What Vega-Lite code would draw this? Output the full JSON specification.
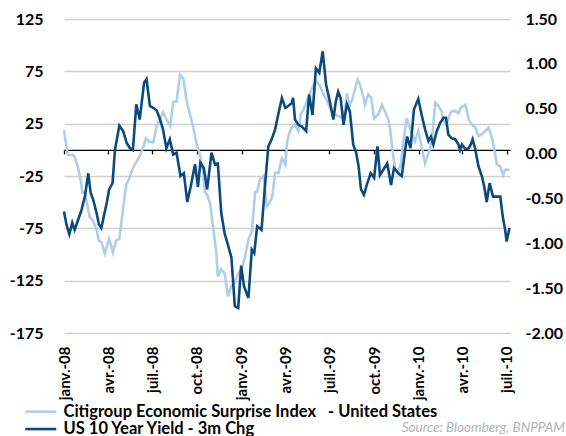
{
 "$schema": "https://vega.github.io/schema/vega-lite/v6.json",
 "width": 446,
 "height": 314,
 "autosize": {"type": "none"},
 "padding": {"left": 64, "top": 19, "right": 56, "bottom": 103},
 "background": "white",
 "config": {"view": {"stroke": null}, "font": "Lato"},
 "title": {"text": "Source: Bloomberg, BNPPAM", "orient": "bottom", "anchor": "end", "frame": "group", "font": "Lato", "fontSize": 13.5, "fontStyle": "italic", "fontWeight": "normal", "color": "#b3b3b3", "dx": 55, "offset": -18},
 "datasets": {
  "citi": [
   {"date": "2008-01-01", "value": 19}, {"date": "2008-01-06", "value": 3}, {"date": "2008-01-09", "value": -5}, {"date": "2008-01-20", "value": -5}, {"date": "2008-01-23", "value": -7}, {"date": "2008-01-30", "value": -17}, {"date": "2008-02-04", "value": -28}, {"date": "2008-02-08", "value": -41}, {"date": "2008-02-13", "value": -41}, {"date": "2008-02-16", "value": -48}, {"date": "2008-02-23", "value": -64}, {"date": "2008-03-01", "value": -68}, {"date": "2008-03-08", "value": -76}, {"date": "2008-03-13", "value": -87}, {"date": "2008-03-18", "value": -88}, {"date": "2008-03-25", "value": -99}, {"date": "2008-04-03", "value": -85}, {"date": "2008-04-11", "value": -98}, {"date": "2008-04-17", "value": -87}, {"date": "2008-04-24", "value": -85}, {"date": "2008-04-29", "value": -67}, {"date": "2008-05-05", "value": -44}, {"date": "2008-05-09", "value": -32}, {"date": "2008-05-14", "value": -28}, {"date": "2008-05-19", "value": -21}, {"date": "2008-05-26", "value": -14}, {"date": "2008-06-05", "value": -6}, {"date": "2008-06-12", "value": 2}, {"date": "2008-06-18", "value": 11}, {"date": "2008-06-24", "value": 8}, {"date": "2008-07-03", "value": 7}, {"date": "2008-07-10", "value": 23}, {"date": "2008-07-17", "value": 29}, {"date": "2008-07-23", "value": 36}, {"date": "2008-07-30", "value": 29}, {"date": "2008-08-07", "value": 23}, {"date": "2008-08-13", "value": 46}, {"date": "2008-08-20", "value": 46}, {"date": "2008-08-27", "value": 72}, {"date": "2008-09-03", "value": 68}, {"date": "2008-09-10", "value": 46}, {"date": "2008-09-16", "value": 35}, {"date": "2008-09-23", "value": 22}, {"date": "2008-09-30", "value": 6}, {"date": "2008-10-07", "value": -5}, {"date": "2008-10-14", "value": -22}, {"date": "2008-10-17", "value": -40}, {"date": "2008-10-22", "value": -43}, {"date": "2008-10-28", "value": -51}, {"date": "2008-11-03", "value": -73}, {"date": "2008-11-10", "value": -99}, {"date": "2008-11-13", "value": -121}, {"date": "2008-11-20", "value": -114}, {"date": "2008-11-27", "value": -118}, {"date": "2008-12-04", "value": -140}, {"date": "2008-12-11", "value": -130}, {"date": "2008-12-18", "value": -127}, {"date": "2008-12-25", "value": -118}, {"date": "2009-01-01", "value": -114}, {"date": "2009-01-08", "value": -102}, {"date": "2009-01-15", "value": -86}, {"date": "2009-01-22", "value": -78}, {"date": "2009-01-29", "value": -40}, {"date": "2009-02-02", "value": -40}, {"date": "2009-02-08", "value": -28}, {"date": "2009-02-15", "value": -25}, {"date": "2009-02-22", "value": -54}, {"date": "2009-02-27", "value": -51}, {"date": "2009-03-05", "value": -45}, {"date": "2009-03-11", "value": -22}, {"date": "2009-03-18", "value": -22}, {"date": "2009-03-25", "value": -8}, {"date": "2009-04-01", "value": -14}, {"date": "2009-04-05", "value": 8}, {"date": "2009-04-09", "value": 16}, {"date": "2009-04-14", "value": 21}, {"date": "2009-04-21", "value": 24}, {"date": "2009-04-28", "value": 18}, {"date": "2009-05-03", "value": 34}, {"date": "2009-05-08", "value": 38}, {"date": "2009-05-15", "value": 46}, {"date": "2009-05-22", "value": 54}, {"date": "2009-05-29", "value": 62}, {"date": "2009-06-05", "value": 65}, {"date": "2009-06-11", "value": 61}, {"date": "2009-06-18", "value": 54}, {"date": "2009-06-25", "value": 48}, {"date": "2009-07-02", "value": 40}, {"date": "2009-07-09", "value": 35}, {"date": "2009-07-19", "value": 32}, {"date": "2009-07-26", "value": 31}, {"date": "2009-08-02", "value": 38}, {"date": "2009-08-06", "value": 54}, {"date": "2009-08-11", "value": 42}, {"date": "2009-08-17", "value": 48}, {"date": "2009-08-23", "value": 59}, {"date": "2009-08-28", "value": 67}, {"date": "2009-09-02", "value": 62}, {"date": "2009-09-09", "value": 50}, {"date": "2009-09-12", "value": 43}, {"date": "2009-09-19", "value": 53}, {"date": "2009-09-25", "value": 50}, {"date": "2009-10-01", "value": 30}, {"date": "2009-10-10", "value": 34}, {"date": "2009-10-17", "value": 43}, {"date": "2009-10-23", "value": 37}, {"date": "2009-10-30", "value": 29}, {"date": "2009-11-03", "value": 20}, {"date": "2009-11-06", "value": 7}, {"date": "2009-11-13", "value": -18}, {"date": "2009-11-19", "value": -22}, {"date": "2009-11-25", "value": -14}, {"date": "2009-12-01", "value": 10}, {"date": "2009-12-07", "value": 30}, {"date": "2009-12-14", "value": 21}, {"date": "2009-12-24", "value": 8}, {"date": "2009-12-31", "value": 18}, {"date": "2010-01-07", "value": 3}, {"date": "2010-01-14", "value": -13}, {"date": "2010-01-21", "value": -3}, {"date": "2010-01-28", "value": 8}, {"date": "2010-02-04", "value": 45}, {"date": "2010-02-10", "value": 42}, {"date": "2010-02-17", "value": 37}, {"date": "2010-02-20", "value": 29}, {"date": "2010-02-27", "value": 24}, {"date": "2010-03-06", "value": 34}, {"date": "2010-03-10", "value": 37}, {"date": "2010-03-17", "value": 37}, {"date": "2010-03-24", "value": 35}, {"date": "2010-03-28", "value": 40}, {"date": "2010-04-07", "value": 43}, {"date": "2010-04-14", "value": 29}, {"date": "2010-04-21", "value": 24}, {"date": "2010-04-28", "value": 21}, {"date": "2010-05-04", "value": 13}, {"date": "2010-05-11", "value": 15}, {"date": "2010-05-18", "value": 18}, {"date": "2010-05-25", "value": 21}, {"date": "2010-06-01", "value": 11}, {"date": "2010-06-07", "value": -3}, {"date": "2010-06-11", "value": -14}, {"date": "2010-06-18", "value": -16}, {"date": "2010-06-24", "value": -24}, {"date": "2010-06-28", "value": -19}, {"date": "2010-07-07", "value": -19}
  ],
  "yld": [
   {"date": "2008-01-01", "value": -0.645}, {"date": "2008-01-06", "value": -0.79}, {"date": "2008-01-12", "value": -0.9}, {"date": "2008-01-18", "value": -0.77}, {"date": "2008-01-23", "value": -0.85}, {"date": "2008-01-30", "value": -0.74}, {"date": "2008-02-06", "value": -0.63}, {"date": "2008-02-13", "value": -0.48}, {"date": "2008-02-20", "value": -0.22}, {"date": "2008-02-25", "value": -0.44}, {"date": "2008-03-01", "value": -0.51}, {"date": "2008-03-08", "value": -0.66}, {"date": "2008-03-13", "value": -0.79}, {"date": "2008-03-18", "value": -0.83}, {"date": "2008-03-23", "value": -0.7}, {"date": "2008-03-29", "value": -0.55}, {"date": "2008-04-03", "value": -0.4}, {"date": "2008-04-10", "value": -0.33}, {"date": "2008-04-15", "value": 0.04}, {"date": "2008-04-24", "value": 0.31}, {"date": "2008-05-02", "value": 0.25}, {"date": "2008-05-09", "value": 0.12}, {"date": "2008-05-16", "value": 0.06}, {"date": "2008-05-22", "value": 0.04}, {"date": "2008-05-29", "value": 0.55}, {"date": "2008-06-05", "value": 0.38}, {"date": "2008-06-14", "value": 0.79}, {"date": "2008-06-19", "value": 0.83}, {"date": "2008-06-26", "value": 0.53}, {"date": "2008-07-03", "value": 0.51}, {"date": "2008-07-10", "value": 0.48}, {"date": "2008-07-17", "value": 0.38}, {"date": "2008-07-23", "value": 0.27}, {"date": "2008-07-30", "value": 0.06}, {"date": "2008-08-06", "value": 0.16}, {"date": "2008-08-13", "value": -0.01}, {"date": "2008-08-20", "value": 0.01}, {"date": "2008-08-28", "value": -0.25}, {"date": "2008-09-04", "value": -0.22}, {"date": "2008-09-11", "value": -0.54}, {"date": "2008-09-18", "value": -0.37}, {"date": "2008-09-27", "value": -0.12}, {"date": "2008-10-03", "value": -0.37}, {"date": "2008-10-08", "value": -0.1}, {"date": "2008-10-15", "value": -0.16}, {"date": "2008-10-22", "value": -0.4}, {"date": "2008-10-31", "value": 0.01}, {"date": "2008-11-07", "value": -0.12}, {"date": "2008-11-13", "value": -0.11}, {"date": "2008-11-20", "value": -0.66}, {"date": "2008-11-27", "value": -0.89}, {"date": "2008-12-04", "value": -1.02}, {"date": "2008-12-11", "value": -1.16}, {"date": "2008-12-18", "value": -1.7}, {"date": "2008-12-25", "value": -1.72}, {"date": "2008-12-31", "value": -1.25}, {"date": "2009-01-06", "value": -1.48}, {"date": "2009-01-15", "value": -1.61}, {"date": "2009-01-22", "value": -1.07}, {"date": "2009-01-27", "value": -1.11}, {"date": "2009-02-02", "value": -0.81}, {"date": "2009-02-11", "value": -0.85}, {"date": "2009-02-18", "value": -0.37}, {"date": "2009-02-25", "value": 0.08}, {"date": "2009-03-04", "value": 0.16}, {"date": "2009-03-11", "value": 0.27}, {"date": "2009-03-18", "value": 0.45}, {"date": "2009-03-25", "value": 0.62}, {"date": "2009-04-01", "value": 0.51}, {"date": "2009-04-07", "value": 0.53}, {"date": "2009-04-14", "value": 0.56}, {"date": "2009-04-17", "value": 0.62}, {"date": "2009-04-21", "value": 0.38}, {"date": "2009-04-28", "value": 0.32}, {"date": "2009-05-05", "value": 0.3}, {"date": "2009-05-14", "value": 0.25}, {"date": "2009-05-20", "value": 0.66}, {"date": "2009-05-27", "value": 0.43}, {"date": "2009-06-03", "value": 0.95}, {"date": "2009-06-10", "value": 0.9}, {"date": "2009-06-17", "value": 1.14}, {"date": "2009-06-24", "value": 0.77}, {"date": "2009-07-01", "value": 0.6}, {"date": "2009-07-09", "value": 0.38}, {"date": "2009-07-14", "value": 0.58}, {"date": "2009-07-19", "value": 0.69}, {"date": "2009-07-24", "value": 0.62}, {"date": "2009-07-30", "value": 0.32}, {"date": "2009-08-06", "value": 0.55}, {"date": "2009-08-12", "value": 0.47}, {"date": "2009-08-19", "value": 0.1}, {"date": "2009-08-25", "value": 0.01}, {"date": "2009-08-30", "value": -0.14}, {"date": "2009-09-04", "value": -0.4}, {"date": "2009-09-10", "value": -0.46}, {"date": "2009-09-17", "value": -0.33}, {"date": "2009-09-24", "value": -0.22}, {"date": "2009-10-01", "value": -0.27}, {"date": "2009-10-08", "value": 0.08}, {"date": "2009-10-13", "value": -0.24}, {"date": "2009-10-20", "value": -0.18}, {"date": "2009-10-28", "value": -0.11}, {"date": "2009-11-05", "value": -0.35}, {"date": "2009-11-11", "value": -0.16}, {"date": "2009-11-20", "value": -0.22}, {"date": "2009-11-27", "value": -0.25}, {"date": "2009-12-04", "value": 0.04}, {"date": "2009-12-08", "value": 0.19}, {"date": "2009-12-15", "value": 0.06}, {"date": "2009-12-22", "value": 0.49}, {"date": "2009-12-31", "value": 0.61}, {"date": "2010-01-07", "value": 0.43}, {"date": "2010-01-14", "value": 0.27}, {"date": "2010-01-21", "value": 0.14}, {"date": "2010-01-26", "value": 0.19}, {"date": "2010-01-31", "value": 0.1}, {"date": "2010-02-07", "value": 0.25}, {"date": "2010-02-14", "value": 0.34}, {"date": "2010-02-21", "value": 0.4}, {"date": "2010-02-26", "value": 0.4}, {"date": "2010-03-03", "value": 0.21}, {"date": "2010-03-10", "value": 0.17}, {"date": "2010-03-17", "value": 0.16}, {"date": "2010-03-24", "value": 0.1}, {"date": "2010-03-27", "value": 0.04}, {"date": "2010-03-31", "value": 0.1}, {"date": "2010-04-07", "value": 0.05}, {"date": "2010-04-14", "value": 0.06}, {"date": "2010-04-18", "value": 0.1}, {"date": "2010-04-22", "value": 0.16}, {"date": "2010-04-27", "value": 0.06}, {"date": "2010-05-04", "value": -0.14}, {"date": "2010-05-11", "value": -0.25}, {"date": "2010-05-16", "value": -0.37}, {"date": "2010-05-21", "value": -0.54}, {"date": "2010-05-27", "value": -0.33}, {"date": "2010-06-03", "value": -0.48}, {"date": "2010-06-09", "value": -0.48}, {"date": "2010-06-18", "value": -0.48}, {"date": "2010-06-23", "value": -0.7}, {"date": "2010-06-28", "value": -0.85}, {"date": "2010-07-01", "value": -0.98}, {"date": "2010-07-07", "value": -0.83}
  ]
 },
 "layer": [
  {
   "data": {"name": "citi"},
   "mark": {"type": "line", "strokeWidth": 2.6},
   "encoding": {
    "x": {"field": "date", "type": "temporal",
     "scale": {"type": "utc", "domain": [{"year": 2008, "month": 1, "date": 1, "utc": true}, {"year": 2010, "month": 7, "date": 8, "utc": true}]},
     "axis": {"orient": "bottom", "title": null, "labelExpr": "['janv.','févr.','mars','avr.','mai','juin','juil.','août','sept.','oct.','nov.','déc.'][utcmonth(datum.value)] + '-' + utcFormat(datum.value, '%y')", "labelAngle": -90, "labelFont": "Lato", "labelFontSize": 15, "labelFontWeight": "bold", "labelColor": "#000000", "labelPadding": 13, "ticks": false, "domain": false, "grid": false, "tickCount": {"interval": "month", "step": 3}, "labelFlush": false, "labelOverlap": false, "labelBound": false}},
    "y": {"field": "value", "type": "quantitative",
     "scale": {"domain": [-175, 125], "nice": false, "zero": false},
     "axis": {"orient": "left", "values": [125, 75, 25, -25, -75, -125, -175], "labelExpr": "replace(format(datum.value, 'd'), '\u2212', '-')", "title": null, "labelFont": "Lato", "labelFontSize": 16, "labelFontWeight": "bold", "labelColor": "#000000", "labelPadding": 21, "ticks": false, "domain": false, "grid": true, "gridColor": "#cfcfcf", "gridWidth": 1.3}},
    "color": {"datum": "Citigroup Economic Surprise Index\u00a0\u00a0 - United States",
     "scale": {"domain": ["Citigroup Economic Surprise Index\u00a0\u00a0 - United States", "US 10 Year Yield - 3m Chg"], "range": ["#b0cde9", "#0c4a7d"]},
     "legend": {"orient": "none", "legendX": -31.5, "legendY": 384.5, "direction": "vertical", "title": null, "symbolType": "M-3.1,0H3.1", "symbolSize": 100, "symbolStrokeWidth": 2.6, "labelFont": "Lato", "labelFontSize": 16.5, "labelFontWeight": "bold", "labelColor": "#000000", "labelOffset": 14.5, "rowPadding": 0.3, "padding": 0, "labelLimit": 600}}
   }
  },
  {
   "data": {"name": "yld"},
   "mark": {"type": "line", "strokeWidth": 2.6},
   "encoding": {
    "x": {"field": "date", "type": "temporal",
     "axis": {"orient": "bottom", "offset": -183.17, "title": null, "labels": false, "ticks": true, "tickSize": 4, "tickColor": "#000000", "tickWidth": 1.3, "domain": true, "domainColor": "#000000", "domainWidth": 1.3, "grid": false, "tickCount": {"interval": "month", "step": 3}}},
    "y": {"field": "value", "type": "quantitative",
     "scale": {"domain": [-2, 1.5], "nice": false, "zero": false},
     "axis": {"orient": "right", "values": [1.5, 1, 0.5, 0, -0.5, -1, -1.5, -2], "labelExpr": "replace(format(datum.value, '.2f'), '\u2212', '-')", "title": null, "labelFont": "Lato", "labelFontSize": 16, "labelFontWeight": "bold", "labelColor": "#000000", "labelPadding": 15, "ticks": false, "domain": false, "grid": false}},
    "color": {"datum": "US 10 Year Yield - 3m Chg"}
   }
  }
 ],
 "resolve": {"scale": {"y": "independent"}, "axis": {"x": "independent", "y": "independent"}}
}
